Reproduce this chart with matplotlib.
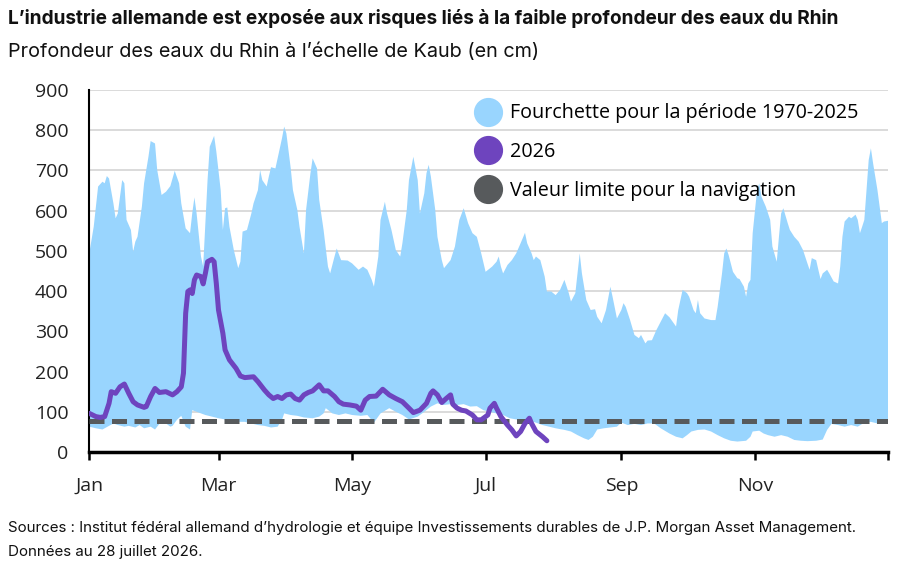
import matplotlib
matplotlib.use("Agg")
import matplotlib.pyplot as plt
from matplotlib.lines import Line2D
import numpy as np

# ---------------- data ----------------
# day of year (0 = 1 January)
upper_days = [0, 2, 4, 6, 7, 8, 9, 11, 12, 13, 15, 16, 17, 19, 20, 21, 22, 24, 25, 27, 28, 30, 31, 33, 35, 37, 39, 41, 42, 44,
              46, 47, 48, 49, 51, 52, 54, 55, 57, 58, 60, 61, 62, 63, 64, 66, 68, 69, 70, 72, 74, 75, 77, 78, 79, 81, 82, 83,
              85, 86, 88, 89, 90, 92, 93, 95, 96, 98, 99, 101, 102, 104, 105, 107, 109, 110, 112, 113, 115, 118, 120, 123,
              125, 127, 129, 130, 132, 133, 135, 136, 138, 140, 142, 143, 145, 146, 148, 150, 151, 153, 154, 155, 156, 158,
              159, 161, 162, 165, 167, 169, 171, 173, 175, 177, 179, 181, 184, 186, 187, 188, 189, 191, 193, 195, 197, 199,
              200, 202, 203, 204, 206, 208, 209, 211, 213, 215, 217, 219, 220, 222, 224, 225, 227, 229, 231, 232, 234, 236,
              238, 239, 241, 243, 244, 245, 247, 249, 251, 252, 254, 255, 257, 259, 261, 263, 265, 268, 269, 271, 273, 274,
              276, 277, 278, 279, 281, 284, 286, 287, 289, 290, 291, 292, 294, 296, 297, 299, 300, 301, 302, 303, 305, 306,
              307, 309, 311, 312, 314, 315, 316, 317, 319, 320, 322, 324, 326, 328, 329, 330, 332, 333, 334, 335, 337, 338,
              340, 342, 343, 344, 345, 347, 348, 350, 351, 352, 353, 354, 355, 356, 357, 358, 360, 362, 363, 365]
upper_vals = [495, 560, 660, 672, 668, 686, 680, 618, 581, 593, 676, 668, 577, 552, 498, 523, 535, 610, 668, 734, 773, 767, 701, 639, 647, 661, 699, 668, 618, 556,
              544, 593, 633, 593, 486, 461, 676, 759, 786, 747, 651, 552, 606, 608, 560, 502, 457, 473, 548, 552, 593, 618, 651, 701, 676, 660, 685, 708,
              705, 730, 780, 809, 792, 705, 651, 602, 560, 494, 602, 693, 730, 705, 627, 552, 461, 444, 486, 506, 477, 476, 469, 453,
              461, 453, 428, 411, 486, 577, 622, 593, 552, 502, 486, 519, 602, 676, 734, 676, 593, 643, 693, 714, 685, 602,
              535, 477, 457, 477, 511, 577, 606, 569, 544, 535, 494, 448, 461, 473, 486, 461, 444, 465, 477, 494, 519, 545,
              519, 494, 477, 486, 477, 436, 399, 399, 390, 403, 428, 395, 374, 395, 494, 444, 378, 353, 355, 336, 320, 353,
              411, 386, 332, 353, 370, 361, 328, 291, 283, 291, 270, 277, 278, 303, 324, 345, 335, 312, 353, 403, 395, 386,
              353, 345, 378, 345, 332, 328, 328, 361, 444, 494, 506, 490, 448, 432, 430, 411, 386, 419, 428, 544, 651, 668,
              635, 610, 577, 511, 473, 535, 593, 606, 569, 552, 535, 523, 502, 469, 453, 482, 477, 453, 430, 444, 453, 444,
              424, 419, 461, 535, 573, 585, 581, 590, 577, 544, 560, 577, 651, 726, 755, 718, 651, 569, 573, 575]

lower_days = [0, 3, 6, 9, 11, 13, 16, 18, 21, 23, 25, 28, 30, 32, 35, 37, 38, 40, 42, 44, 46, 47, 50, 53, 56, 59, 62, 65, 68,
              71, 74, 77, 80, 83, 86, 88, 89, 92, 95, 98, 102, 105, 107, 108, 111, 114, 117, 120, 124, 127, 130, 133, 137,
              140, 143, 146, 150, 153, 156, 159, 162, 165, 168, 171, 174, 177, 180, 183, 186, 189, 192, 195, 198, 201, 204,
              207, 210, 213, 217, 220, 223, 226, 228, 230, 232, 235, 238, 241, 243, 246, 249, 252, 255, 258, 261, 265, 268,
              271, 273, 275, 278, 281, 284, 287, 290, 293, 296, 300, 302, 303, 306, 308, 310, 313, 316, 319, 322, 325, 328,
              332, 335, 337, 339, 342, 345, 348, 351, 354, 357, 360, 363, 365]
lower_vals = [63, 59, 56, 65, 71, 67, 63, 65, 61, 67, 59, 63, 56, 70, 71, 63, 65, 80, 90, 63, 56, 104, 98, 92, 88, 84, 81, 78, 75,
              75, 71, 67, 65, 61, 63, 80, 96, 92, 90, 86, 84, 88, 96, 109, 96, 92, 96, 92, 90, 92, 73, 96, 109,
              100, 92, 81, 88, 100, 113, 121, 117, 119, 117, 119, 113, 114, 104, 100, 96, 92, 84, 81, 80, 78, 73,
              67, 63, 59, 55, 51, 42, 34, 30, 38, 56, 59, 61, 63, 73, 67, 70, 67, 71, 71, 59, 46, 38,
              34, 42, 51, 55, 56, 51, 42, 34, 28, 26, 28, 38, 51, 53, 46, 42, 38, 42, 38, 30, 28, 27,
              28, 31, 55, 70, 67, 63, 67, 63, 73, 75, 71, 70, 73]

y2026_days = [0, 3, 5, 7, 9, 10, 12, 14, 16, 18, 20, 22, 25, 26, 28, 30, 32, 35, 38, 40, 42, 43, 44, 45, 46, 47, 48, 49, 51,
              52, 53, 54, 56, 57, 58, 59, 61, 62, 64, 67, 69, 71, 73, 75, 77, 80, 82, 84, 86, 88, 90, 92, 94, 96, 98, 100,
              102, 105, 107, 109, 112, 114, 116, 119, 122, 124, 126, 128, 131, 134, 137, 140, 143, 146, 148, 151, 154, 156,
              157, 159, 161, 163, 165, 166, 168, 170, 172, 175, 177, 179, 182, 183, 185, 186, 188, 191, 193, 195, 197, 199,
              201, 202, 204, 207, 209]
y2026_vals = [96, 88, 86, 88, 121, 150, 146, 162, 169, 146, 125, 117, 111, 113, 138, 158, 148, 150, 142, 150, 162, 196, 345, 399, 403, 394, 428, 440, 436,
              418, 444, 473, 479, 473, 419, 353, 295, 254, 229, 208, 189, 185, 186, 187, 175, 154, 142, 133, 138, 133, 142, 144, 133, 129, 142, 148,
              152, 167, 152, 152, 138, 125, 119, 117, 114, 104, 129, 138, 139, 156, 142, 133, 125, 109, 98, 104, 121, 146,
              152, 142, 123, 133, 142, 119, 109, 104, 102, 92, 80, 80, 92, 109, 121, 109, 88, 67, 55, 40, 51, 71,
              84, 71, 51, 38, 28]

nav_limit = 78

month_ticks = [0, 59, 120, 181, 243, 304, 365]
month_labels = ["Jan", "Mar", "May", "Jul", "Sep", "Nov", ""]
y_ticks = [0, 100, 200, 300, 400, 500, 600, 700, 800, 900]

labels = ["Fourchette pour la période 1970-2025", "2026", "Valeur limite pour la navigation"]
title = "L’industrie allemande est exposée aux risques liés à la faible profondeur des eaux du Rhin"
subtitle = "Profondeur des eaux du Rhin à l’échelle de Kaub (en cm)"
source1 = "Sources : Institut fédéral allemand d’hydrologie et équipe Investissements durables de J.P. Morgan Asset Management."
source2 = "Données au 28 juillet 2026."

# ---------------- style ----------------
c_band = "#99D5FE"
c_2026 = "#6E44BE"
c_nav = "#575A5C"
tick_font = "Open Sans"
text_font = "Inter"

fig = plt.figure(figsize=(9.07, 5.67), dpi=100)
ax = fig.add_axes([0.0985, 0.2028, 0.881, 0.6385])

# band as a polygon: upper edge forward, lower edge backward
poly_x = np.concatenate([upper_days, lower_days[::-1]])
poly_y = np.concatenate([upper_vals, lower_vals[::-1]])
ax.fill(poly_x, poly_y, color=c_band, lw=0, zorder=2)

ax.axhline(nav_limit, color=c_nav, lw=3.6, dashes=(3.0, 1.5), zorder=3)
ax.plot(y2026_days, y2026_vals, color=c_2026, lw=3.6, solid_joinstyle="round",
        solid_capstyle="round", zorder=4)

ax.set_xlim(0, 365)
ax.set_ylim(0, 900)
ax.set_yticks(y_ticks)
ax.set_yticklabels([str(v) for v in y_ticks], fontfamily=tick_font, fontsize=14)
ax.set_xticks(month_ticks)
ax.set_xticklabels(month_labels, fontfamily=tick_font, fontsize=14)
ax.tick_params(axis="y", length=0, pad=15, colors="#222222")
ax.tick_params(axis="x", length=6, width=1.8, pad=12, colors="black", labelcolor="#222222")
ax.grid(axis="y", color="#D4D4D4", lw=1.2, zorder=0)
ax.set_axisbelow(True)
for s in ["top", "right"]:
    ax.spines[s].set_visible(False)
ax.spines["left"].set_linewidth(1.5)
ax.spines["bottom"].set_linewidth(2.5)

handles = [Line2D([], [], marker="o", ls="None", markersize=20, color=c) for c in (c_band, c_2026, c_nav)]
ax.legend(handles, labels, loc="upper left", bbox_to_anchor=(0.472, 0.99), frameon=False,
          prop={"family": tick_font, "size": 14.2}, handlelength=1.2, handletextpad=0.5,
          labelspacing=0.95, borderpad=0)

fig.text(0.0088, 0.985, title, fontfamily=text_font, fontweight="bold", fontsize=13.7, va="top", color="#111111")
fig.text(0.0088, 0.925, subtitle, fontfamily=text_font, fontsize=14.25, va="top", color="#111111")
fig.text(0.0088, 0.082, source1, fontfamily=text_font, fontsize=10.9, va="top", color="#111111")
fig.text(0.0088, 0.038, source2, fontfamily=text_font, fontsize=10.9, va="top", color="#111111")

fig.savefig("out.png", dpi=100)
